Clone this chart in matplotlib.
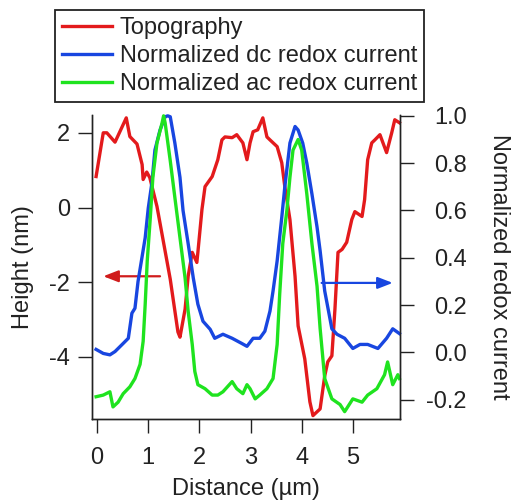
import matplotlib.pyplot as plt
from matplotlib.ticker import FormatStrFormatter

plt.rcParams["font.family"] = ["Liberation Sans", "DejaVu Sans"]
plt.rcParams["axes.unicode_minus"] = False

# topography (left axis, nm)
topo_x = [-0.02, 0.12, 0.19, 0.35, 0.57, 0.64, 0.78, 0.88, 0.9, 0.97, 1.03,
          1.17, 1.43, 1.58, 1.62, 1.72, 1.78, 1.86, 1.95, 1.97, 2.05, 2.11,
          2.25, 2.36, 2.44, 2.5, 2.64, 2.73, 2.85, 2.93, 2.99, 3.05, 3.14,
          3.24, 3.32, 3.38, 3.52, 3.61, 3.67, 3.77, 3.81, 3.87, 3.93, 4.06,
          4.16, 4.22, 4.36, 4.45, 4.51, 4.59, 4.65, 4.71, 4.79, 4.88, 4.98,
          5.04, 5.18, 5.23, 5.29, 5.37, 5.43, 5.53, 5.66, 5.76, 5.82, 5.91]
topo_h = [0.83, 2.0, 2.0, 1.75, 2.4, 1.9, 1.7, 1.15, 0.75, 0.95, 0.8,
          0.03, -1.92, -3.33, -3.47, -2.72, -1.84, -1.2, -1.47, -1.2, -0.05, 0.56,
          0.83, 1.28, 1.81, 1.89, 1.87, 1.95, 1.73, 1.28, 1.73, 2.03, 2.08,
          2.4, 1.89, 1.81, 1.63, 1.2, 0.56, -0.32, -0.93, -1.84, -3.17, -4.05,
          -5.2, -5.57, -5.39, -4.51, -4.13, -3.97, -2.72, -1.2, -1.12, -0.93, -0.32,
          -0.11, -0.24, 0.21, 1.28, 1.73, 1.81, 1.95, 1.47, 2.0, 2.35, 2.27]

# normalized dc redox current (right axis)
dc_x = [-0.02, 0.12, 0.25, 0.35, 0.49, 0.61, 0.68, 0.74, 0.8, 0.94, 1.0,
        1.07, 1.13, 1.23, 1.33, 1.38, 1.43, 1.52, 1.62, 1.68, 1.78, 1.88,
        1.97, 2.07, 2.21, 2.3, 2.46, 2.64, 2.83, 2.93, 3.05, 3.18, 3.28,
        3.38, 3.44, 3.52, 3.61, 3.67, 3.77, 3.87, 3.93, 4.02, 4.1, 4.2,
        4.3, 4.36, 4.45, 4.59, 4.69, 4.84, 5.0, 5.14, 5.29, 5.49, 5.66,
        5.78, 5.91]
dc_r = [0.013, -0.004, -0.01, 0.004, 0.034, 0.06, 0.166, 0.187, 0.30, 0.485, 0.61,
        0.715, 0.855, 0.94, 0.996, 1.0, 0.996, 0.885, 0.74, 0.6, 0.46, 0.315,
        0.204, 0.132, 0.098, 0.06, 0.077, 0.06, 0.038, 0.026, 0.06, 0.06, 0.09,
        0.175, 0.26, 0.387, 0.57, 0.7, 0.885, 0.955, 0.94, 0.885, 0.8, 0.67,
        0.53, 0.43, 0.26, 0.10, 0.077, 0.06, 0.017, 0.034, 0.034, 0.017, 0.06,
        0.1, 0.08]

# normalized ac redox current (right axis)
ac_x = [-0.02, 0.12, 0.25, 0.31, 0.41, 0.51, 0.64, 0.74, 0.84, 0.9, 0.94,
        0.98, 1.04, 1.09, 1.17, 1.27, 1.3, 1.33, 1.43, 1.52, 1.62, 1.72,
        1.78, 1.86, 1.91, 1.97, 2.11, 2.25, 2.36, 2.46, 2.64, 2.73, 2.85,
        2.93, 2.99, 3.09, 3.18, 3.32, 3.44, 3.52, 3.57, 3.63, 3.71, 3.77,
        3.83, 3.93, 4.0, 4.1, 4.2, 4.3, 4.36, 4.45, 4.59, 4.75, 4.84,
        5.0, 5.18, 5.29, 5.47, 5.62, 5.68, 5.78, 5.88, 5.91]
ac_r = [-0.187, -0.18, -0.166, -0.23, -0.21, -0.174, -0.145, -0.11, -0.05, 0.047, 0.204,
        0.387, 0.57, 0.74, 0.885, 0.97, 1.0, 0.97, 0.81, 0.655, 0.485, 0.315,
        0.174, 0.034, -0.08, -0.136, -0.153, -0.18, -0.18, -0.166, -0.123, -0.153, -0.174,
        -0.136, -0.153, -0.196, -0.18, -0.153, -0.11, 0.034, 0.247, 0.46, 0.6, 0.74,
        0.855, 0.9, 0.855, 0.67, 0.46, 0.28, 0.102, -0.11, -0.196, -0.22, -0.25,
        -0.196, -0.21, -0.18, -0.153, -0.094, -0.04, -0.136, -0.094, -0.11]

left_ticks = [2, 0, -2, -4]
right_ticks = [-0.2, 0.0, 0.2, 0.4, 0.6, 0.8, 1.0]
x_ticks = [0, 1, 2, 3, 4, 5]

RED = "#e31a1c"
BLUE = "#1846e0"
GREEN = "#1fe31f"
FS = 17

fig = plt.figure(figsize=(5.14, 5.01), dpi=100)
ax = fig.add_axes([0.179, 0.1637, 0.599, 0.607])
ax2 = ax.twinx()

l1, = ax.plot(topo_x, topo_h, color=RED, lw=2.4, clip_on=False)
l2, = ax2.plot(dc_x, dc_r, color=BLUE, lw=2.4, clip_on=False)
l3, = ax2.plot(ac_x, ac_r, color=GREEN, lw=2.4, clip_on=False)

ax.set_xlim(-0.1, 5.92)
ax.set_ylim(-5.66, 2.48)
ax2.set_ylim(-0.281, 1.004)

for a in (ax, ax2):
    a.spines["top"].set_visible(False)
    for s in a.spines.values():
        s.set_linewidth(1.0)
        s.set_color("#222222")
    a.tick_params(length=10, width=1.0, color="#222222", labelsize=FS,
                  labelcolor="#222222")

ax.set_xticks(x_ticks)
ax.set_yticks(left_ticks)
ax.tick_params(axis="x", pad=10)
ax.tick_params(axis="y", pad=6)
ax2.set_yticks(right_ticks)
ax2.yaxis.set_major_formatter(FormatStrFormatter("%.1f"))
ax2.tick_params(axis="y", pad=38)
for lab in ax2.get_yticklabels():
    lab.set_horizontalalignment("right")

ax.set_xlabel("Distance (\u00b5m)", fontsize=FS, color="#222222", labelpad=7)
ax.set_ylabel("Height (nm)", fontsize=FS, color="#222222")
ax.yaxis.set_label_coords(-0.19, 0.5)
ax2.set_ylabel("Normalized redox current", fontsize=FS, color="#222222",
               rotation=270, va="bottom")
ax2.yaxis.set_label_coords(1.285, 0.5)

# axis-assignment arrows
ax.annotate("", xy=(0.12, -1.84), xytext=(1.23, -1.84),
            arrowprops=dict(arrowstyle="-|>,head_length=0.9,head_width=0.35",
                            color="#d01c1c", lw=1.6, shrinkA=0, shrinkB=0))
ax2.annotate("", xy=(5.78, 0.294), xytext=(4.39, 0.294),
             arrowprops=dict(arrowstyle="-|>,head_length=0.9,head_width=0.35",
                             color=BLUE, lw=1.6, shrinkA=0, shrinkB=0))

leg = fig.legend([l1, l2, l3],
                 ["Topography", "Normalized dc redox current",
                  "Normalized ac redox current"],
                 loc="upper left", bbox_to_anchor=(55 / 514, 1 - 10 / 501),
                 borderaxespad=0, fontsize=FS, fancybox=False, framealpha=1,
                 edgecolor="#222222", handlelength=2.1, handletextpad=0.35,
                 labelspacing=0.26, borderpad=0.3)
leg.get_frame().set_linewidth(1.3)
for t in leg.get_texts():
    t.set_color("#222222")

fig.savefig("out.png", dpi=100)
